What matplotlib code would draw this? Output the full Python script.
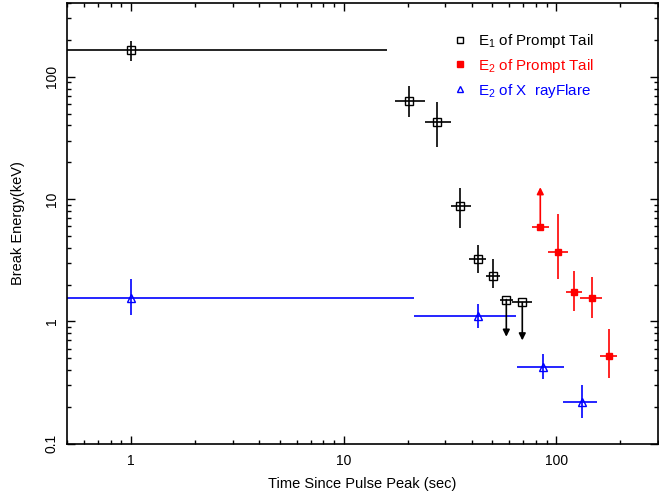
import numpy as np
import matplotlib
matplotlib.use("Agg")
from matplotlib import pyplot as plt
from matplotlib.lines import Line2D

plt.rcParams['font.family'] = ['Liberation Sans', 'DejaVu Sans']
plt.rcParams['mathtext.fontset'] = 'custom'
plt.rcParams['mathtext.rm'] = 'Liberation Sans'

# E1 of prompt tail (black open squares)
e1_t = [1.0, 20.2, 27.6, 35.4, 43.0, 50.6]
e1_tlo = [0.01, 17.4, 24.0, 31.8, 39.0, 46.5]
e1_thi = [16.0, 24.0, 31.8, 39.5, 46.9, 54.6]
e1_e = [165, 63.6, 42.8, 8.77, 3.22, 2.34]
e1_elo = [135, 47, 26.7, 5.78, 2.47, 1.86]
e1_ehi = [197, 84, 62, 12.3, 4.2, 3.22]

# E1 upper limits
ul_t = [58.2, 69.2]
ul_tlo = [54.6, 62.0]
ul_thi = [62.8, 77.0]
ul_e = [1.51, 1.43]
ul_end = [0.75, 0.70]

# E2 of prompt tail (red filled squares)
e2_t = [102, 121.5, 147.6, 177]
e2_tlo = [91.6, 111, 130, 160]
e2_thi = [113, 132, 164, 193]
e2_e = [3.68, 1.73, 1.54, 0.526]
e2_elo = [2.21, 1.21, 1.06, 0.347]
e2_ehi = [7.5, 2.57, 2.3, 0.86]

# E2 lower limit
ll_t = [84.1]
ll_tlo = [77.0]
ll_thi = [92.7]
ll_e = [5.89]
ll_end = [12.5]

# E2 of X-ray flare (blue open triangles)
fl_t = [1.0, 43.0, 86.9, 132]
fl_tlo = [0.01, 21.5, 65, 108]
fl_thi = [21.5, 64.9, 109, 156]
fl_e = [1.54, 1.1, 0.428, 0.221]
fl_elo = [1.12, 0.877, 0.341, 0.163]
fl_ehi = [2.21, 1.4, 0.537, 0.305]

labels = ['E$_1$ of Prompt Tail', 'E$_2$ of Prompt Tail', 'E$_2$ of X  rayFlare']


def errs(v, lo, hi):
    v = np.array(v)
    return [v - np.array(lo), np.array(hi) - v]


fig = plt.figure(figsize=(6.59, 4.97), dpi=100)
ax = fig.add_axes([0.102, 0.107, 0.896, 0.887])

ax.errorbar(e1_t, e1_e, xerr=errs(e1_t, e1_tlo, e1_thi), yerr=errs(e1_e, e1_elo, e1_ehi),
            fmt='s', mfc='none', mec='black', ecolor='black', ms=6, mew=1, elinewidth=1.2,
            capsize=0)
ax.errorbar(ul_t, ul_e, xerr=errs(ul_t, ul_tlo, ul_thi), fmt='s', mfc='none', mec='black',
            ecolor='black', ms=6, mew=1, elinewidth=1.2, capsize=0)
for t, e, end in zip(ul_t, ul_e, ul_end):
    ax.annotate('', xy=(t, end), xytext=(t, e),
                arrowprops=dict(arrowstyle='-|>', color='black', lw=1.2, mutation_scale=10,
                                shrinkA=0, shrinkB=0))

ax.errorbar(e2_t, e2_e, xerr=errs(e2_t, e2_tlo, e2_thi), yerr=errs(e2_e, e2_elo, e2_ehi),
            fmt='s', mfc='red', mec='red', ecolor='red', ms=5, elinewidth=1.2, capsize=0)
ax.errorbar(ll_t, ll_e, xerr=errs(ll_t, ll_tlo, ll_thi), fmt='s', mfc='red', mec='red',
            ecolor='red', ms=5, elinewidth=1.2, capsize=0)
for t, e, end in zip(ll_t, ll_e, ll_end):
    ax.annotate('', xy=(t, end), xytext=(t, e),
                arrowprops=dict(arrowstyle='-|>', color='red', lw=1.2, mutation_scale=10,
                                shrinkA=0, shrinkB=0))

ax.errorbar(fl_t, fl_e, xerr=errs(fl_t, fl_tlo, fl_thi), yerr=errs(fl_e, fl_elo, fl_ehi),
            fmt='^', mfc='none', mec='blue', ecolor='blue', ms=6, mew=1, elinewidth=1.2,
            capsize=0)

ax.set_xscale('log')
ax.set_yscale('log')
ax.set_xlim(0.5, 300)
ax.set_ylim(0.1, 400)
ax.set_xticks([1, 10, 100])
ax.set_xticklabels(['1', '10', '100'])
ax.set_yticks([0.1, 1, 10, 100])
ax.set_yticklabels(['0.1', '1', '10', '100'], rotation=90, va='center')
ax.tick_params(which='both', direction='in', top=True, right=True, labelsize=10)
ax.tick_params(which='major', length=6, width=1)
ax.tick_params(which='minor', length=3, width=1)
ax.tick_params(axis='y', pad=6)
ax.tick_params(axis='x', pad=7)
for s in ax.spines.values():
    s.set_linewidth(1.2)

ax.set_xlabel('Time Since Pulse Peak (sec)', fontsize=10.5, labelpad=7)
ax.set_ylabel('Break Energy(keV)', fontsize=10.5, labelpad=14)

handles = [
    Line2D([], [], ls='none', marker='s', mfc='none', mec='black', ms=5, mew=1),
    Line2D([], [], ls='none', marker='s', mfc='red', mec='red', ms=4.5),
    Line2D([], [], ls='none', marker='^', mfc='none', mec='blue', ms=5, mew=1),
]
leg = ax.legend(handles, labels, loc='upper left', bbox_to_anchor=(0.642, 0.948),
                borderaxespad=0, frameon=False, fontsize=10.9, handletextpad=0.7,
                handlelength=1.0, labelspacing=0.45, numpoints=1)
for txt, c in zip(leg.get_texts(), ['black', 'red', 'blue']):
    txt.set_color(c)

fig.savefig('out.png', dpi=100)
